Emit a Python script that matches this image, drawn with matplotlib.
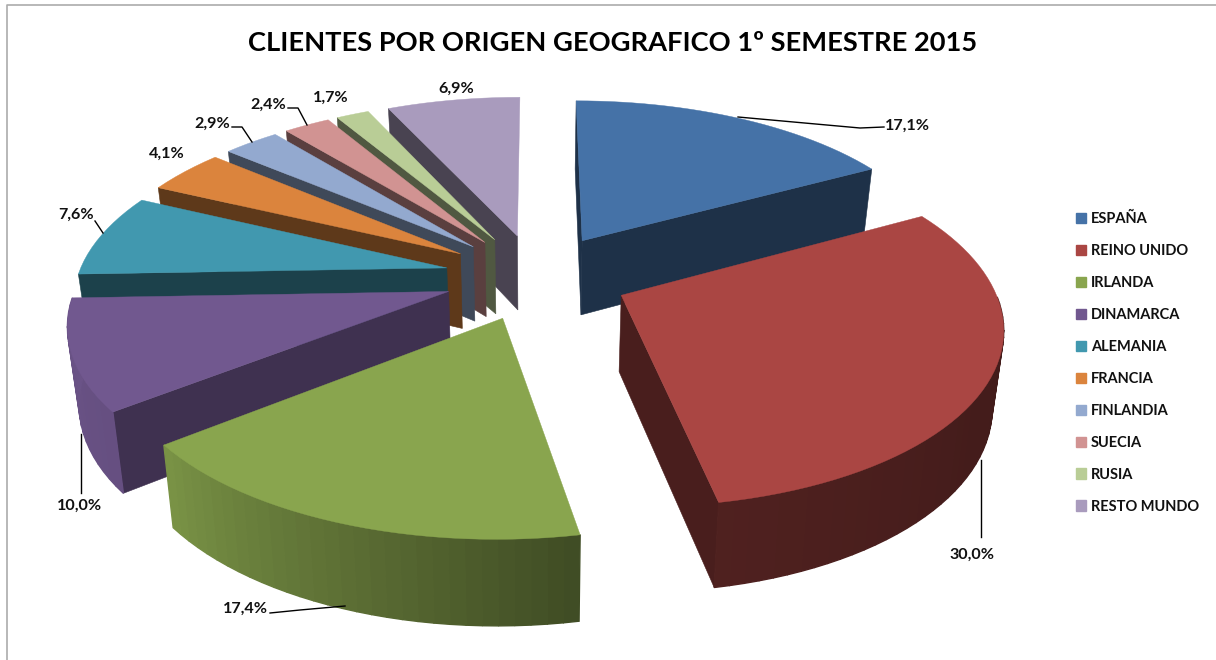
import numpy as np
import matplotlib
matplotlib.use("Agg")
import matplotlib.pyplot as plt
from matplotlib.patches import Polygon, Patch
from matplotlib.lines import Line2D

plt.rcParams['font.family'] = ['Lato', 'DejaVu Sans']

title = "CLIENTES POR ORIGEN GEOGRAFICO 1º SEMESTRE 2015"
categories = ["ESPAÑA", "REINO UNIDO", "IRLANDA", "DINAMARCA", "ALEMANIA",
              "FRANCIA", "FINLANDIA", "SUECIA", "RUSIA", "RESTO MUNDO"]
values = [17.1, 30.0, 17.4, 10.0, 7.6, 4.1, 2.9, 2.4, 1.7, 6.9]
labels = ["17,1%", "30,0%", "17,4%", "10,0%", "7,6%", "4,1%", "2,9%", "2,4%", "1,7%", "6,9%"]
colors = ["#4572A7", "#AA4643", "#89A54E", "#71588F", "#4198AF",
          "#DB843D", "#93A9CF", "#D19392", "#B9CD96", "#A99BBD"]

# layout of the label text (pixels) and leader lines
label_xy = [(907, 125.5), (972, 554.5), (245, 608.5), (80, 505.5), (76, 214.5),
            (167, 153.5), (212, 123.5), (268, 104.5), (331, 97.5), (456, 88.5)]
leaders = [[(738, 117), (860, 128), (884, 127)],
           [(981, 460), (981, 537)],
           [(270, 613), (300, 610), (345, 606)],
           [(81, 434), (81, 493)],
           [(103, 233), (95, 221)],
           None,
           [(232, 127), (242, 127), (252, 142)],
           [(288, 108), (298, 108), (307, 125)],
           None, None]

# pie projection
CX, CY, AX_, AY_, PERSP, EXPLODE = 536.5, 276.5, 369.0, 172.0, 0.156, 0.25
draw_order = [9, 8, 7, 6, 5, 4, 3, 0, 1, 2]


def proj(u, v, z=0.0):
    w = 1 + PERSP * v
    x = CX + AX_ * u / w
    y = CY - AY_ * v / w
    x = CX + (x - CX) * (1 - 0.025 * z)
    y = y + z * (29.6 + 46.0 / w)
    return x, y


def shade(c, f):
    r = np.array(matplotlib.colors.to_rgb(c)) * f
    return tuple(np.clip(r, 0, 1))


def rim_factor(deg):
    return np.interp(deg, [60, 120, 170, 232, 270, 360], [.38, .40, .47, .90, .95, .95])


fig = plt.figure(figsize=(12.16, 6.6), dpi=100, facecolor="white")
ax = fig.add_axes([0, 0, 1, 1])
ax.set_xlim(0, 1216)
ax.set_ylim(660, 0)
ax.axis("off")

# frame of the pasted chart
ax.add_line(Line2D([7, 7, 1216], [660, 5, 5], color="#ababab", lw=1.2))

fractions = np.array(values) / sum(values)
edges = np.concatenate([[0], np.cumsum(fractions)]) * 360

for order, i in enumerate(draw_order):
    z = order + 2
    a0, a1 = edges[i], edges[i + 1]
    mid = np.radians((a0 + a1) / 2)
    du, dv = EXPLODE * np.sin(mid), EXPLODE * np.cos(mid)
    th = np.radians(np.linspace(a0, a1, max(int(a1 - a0) // 2, 6)))
    us, vs = np.sin(th) + du, np.cos(th) + dv
    col = colors[i]

    # flat side walls: only those that face the viewer
    if np.sin(np.radians(a0)) <= 0 and a0 < 360:
        f = 0.56 if 200 < a0 < 260 else 0.43
        pts = [proj(du, dv), proj(us[0], vs[0]), proj(us[0], vs[0], 1), proj(du, dv, 1)]
        ax.add_patch(Polygon(pts, closed=True, fc=shade(col, f), ec=shade(col, f), lw=0.4, zorder=z))
    if np.sin(np.radians(a1)) > 1e-9:
        f = 0.43
        pts = [proj(du, dv), proj(us[-1], vs[-1]), proj(us[-1], vs[-1], 1), proj(du, dv, 1)]
        ax.add_patch(Polygon(pts, closed=True, fc=shade(col, f), ec=shade(col, f), lw=0.4, zorder=z))

    # curved rim with banded gradient (front-facing part only)
    for k in range(len(th) - 1):
        if np.cos((th[k] + th[k + 1]) / 2) > -0.02:
            continue
        f = rim_factor(np.degrees(th[k]))
        pts = [proj(us[k], vs[k]), proj(us[k + 1], vs[k + 1]),
               proj(us[k + 1], vs[k + 1], 1), proj(us[k], vs[k], 1)]
        ax.add_patch(Polygon(pts, closed=True, fc=shade(col, f), ec=shade(col, f), lw=1.0, zorder=z))

    # top face
    top = [proj(du, dv)] + [proj(u, v) for u, v in zip(us, vs)]
    ax.add_patch(Polygon(top, closed=True, fc=col, ec=col, lw=0.3, zorder=z))

for lab, xy, ld in zip(labels, label_xy, leaders):
    ax.text(xy[0], xy[1], lab, ha="center", va="center", fontsize=11.6,
            fontweight="bold", color="#111111", zorder=30)
    if ld:
        ax.add_line(Line2D(*zip(*ld), color="black", lw=1.0, zorder=29))

ax.text(612.5, 43, title, ha="center", va="center", fontsize=19.6,
        fontweight="bold", color="black", zorder=30)

handles = [Patch(fc=c, ec=c) for c in colors]
leg = ax.legend(handles, categories, loc="upper left", bbox_to_anchor=(1076 / 1216, 1 - 212 / 660),
                frameon=False, fontsize=10.5, labelspacing=1.23, handlelength=0.69, handleheight=0.69,
                handletextpad=0.31, borderpad=0, borderaxespad=0)
for t in leg.get_texts():
    t.set_fontweight("bold")
    t.set_color("#111111")

fig.savefig("out.png", dpi=100, facecolor="white")
